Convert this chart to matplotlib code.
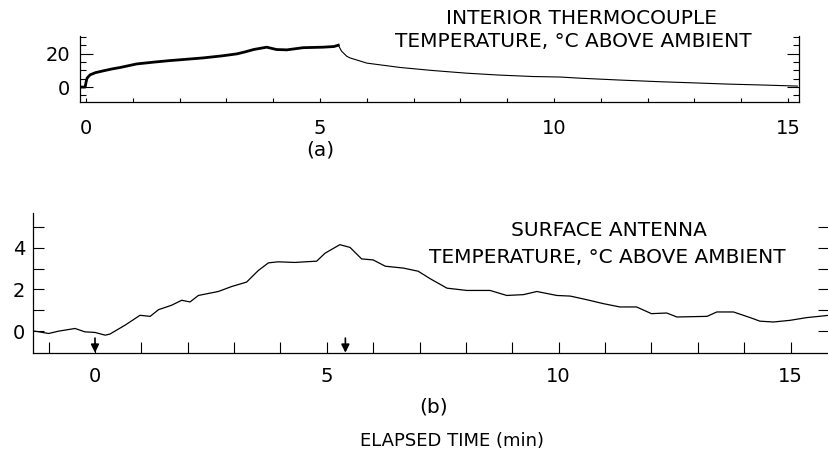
import matplotlib
matplotlib.use("Agg")
import matplotlib.pyplot as plt
from matplotlib.ticker import MultipleLocator, FixedLocator

# (a) interior thermocouple, heating phase (thick, noisy trace)
t_heat = [-0.13, -0.02, 0.0, 0.02, 0.085, 0.2, 0.37, 0.55, 0.73, 1.08, 1.45, 1.79, 2.15, 2.5,
          2.9, 3.22, 3.4, 3.58, 3.86, 4.07, 4.29, 4.64, 5.07, 5.3, 5.39]
v_heat = [0.0, 0.0, 3.0, 5.3, 7.3, 8.6, 9.7, 10.8, 11.7, 13.8, 14.9, 15.8, 16.6, 17.4,
          18.6, 19.8, 21.0, 22.4, 23.8, 22.4, 22.2, 23.5, 23.8, 24.2, 25.0]
# (a) cooling phase (thin trace)
t_cool = [5.39, 5.46, 5.57, 5.64, 6.0, 6.71, 7.4, 8.13, 8.8, 9.55, 10.13, 10.56, 11.4,
          12.26, 13.0, 13.7, 14.5, 15.2]
v_cool = [25.0, 21.4, 18.4, 17.4, 14.3, 11.7, 9.9, 8.3, 7.2, 6.3, 6.0, 5.3, 4.2,
          3.2, 2.5, 1.8, 1.2, 0.6]

# (b) surface antenna
t_surf = [-1.33, -1.29, -1.0, -0.79, -0.43, -0.22, 0.0, 0.22, 0.32, 0.65, 0.97, 1.19, 1.37,
          1.65, 1.87, 2.05, 2.23, 2.66, 2.95, 3.27, 3.52, 3.74, 3.95, 4.31, 4.53, 4.78,
          4.96, 5.28, 5.5, 5.75, 6.0, 6.26, 6.65, 6.97, 7.23, 7.59, 8.02, 8.52, 8.88,
          9.24, 9.53, 9.96, 10.25, 10.6, 10.96, 11.32, 11.68, 12.0, 12.33, 12.55, 13.2,
          13.41, 13.77, 14.13, 14.34, 14.63, 14.99, 15.35, 15.83]
v_surf = [0.0, 0.0, -0.11, 0.0, 0.13, -0.03, -0.06, -0.19, -0.14, 0.29, 0.76, 0.71, 1.03,
          1.24, 1.48, 1.40, 1.71, 1.90, 2.14, 2.35, 2.90, 3.27, 3.32, 3.29, 3.32, 3.35,
          3.73, 4.14, 4.01, 3.46, 3.41, 3.11, 3.02, 2.87, 2.51, 2.06, 1.95, 1.95, 1.71,
          1.75, 1.90, 1.71, 1.68, 1.51, 1.32, 1.16, 1.16, 0.84, 0.87, 0.68, 0.71,
          0.92, 0.92, 0.65, 0.48, 0.44, 0.52, 0.65, 0.76]
arrow_times = [0.0, 5.4]

plt.rcParams['font.family'] = ['DejaVu Sans']

fig = plt.figure(figsize=(8.29, 4.55), dpi=100)

# ---- panel (a)
ax1 = fig.add_axes([0.0965, 0.7758, 0.8673, 0.1452])
ax1.plot(t_heat, v_heat, color="k", lw=2.0)
ax1.plot(t_cool, v_cool, color="k", lw=0.8)
ax1.set_xlim(-0.13, 15.235)
ax1.set_ylim(-8.9, 30.5)
ax1.spines['top'].set_visible(False)
for s in ax1.spines.values():
    s.set_linewidth(0.9)
ax1.set_xticks([0, 5, 10, 15])
ax1.xaxis.set_minor_locator(MultipleLocator(1))
ax1.set_yticks([0, 20])
ax1.yaxis.set_minor_locator(FixedLocator([-5, 5, 10, 15, 25, 30]))
ax1.tick_params(axis='x', which='both', direction='in', length=3, width=0.8,
                labelsize=14, pad=12)
ax1.tick_params(axis='y', which='major', direction='in', length=9, width=0.8,
                labelsize=14, pad=7, right=True)
ax1.tick_params(axis='y', which='minor', direction='in', length=4, width=0.8, right=True)

fig.text(0.702, 0.960, "INTERIOR THERMOCOUPLE", ha='center', va='center', fontsize=14.5)
fig.text(0.692, 0.908, "TEMPERATURE, °C ABOVE AMBIENT", ha='center', va='center',
         fontsize=14.5)
fig.text(0.386, 0.670, "(a)", ha='center', va='center', fontsize=14.5)

# ---- panel (b)
ax2 = fig.add_axes([0.0402, 0.2248, 0.9598, 0.3077])
ax2.plot(t_surf, v_surf, color="k", lw=0.9)
ax2.set_xlim(-1.33, 15.83)
ax2.set_ylim(-1.03, 5.67)
ax2.spines['top'].set_visible(False)
for s in ax2.spines.values():
    s.set_linewidth(0.9)
ax2.set_xticks([0, 5, 10, 15])
ax2.xaxis.set_minor_locator(MultipleLocator(1))
ax2.set_yticks([0, 2, 4])
ax2.yaxis.set_minor_locator(FixedLocator([1, 3, 5]))
ax2.tick_params(axis='x', which='both', direction='in', length=8, width=0.8,
                labelsize=14, pad=10)
ax2.tick_params(axis='y', which='both', direction='in', length=8, width=0.8,
                labelsize=14, pad=6, right=True)

# pfeile bei start und ende der heizung
for ta in arrow_times:
    ax2.annotate("", xy=(ta, -1.03), xytext=(ta, -0.33),
                 arrowprops=dict(arrowstyle="-|>", color="k", lw=1.2,
                                 mutation_scale=12, shrinkA=0, shrinkB=0))

fig.text(0.735, 0.4945, "SURFACE ANTENNA", ha='center', va='center', fontsize=14.5)
fig.text(0.732, 0.435, "TEMPERATURE, °C ABOVE AMBIENT", ha='center', va='center',
         fontsize=14.5)
fig.text(0.5235, 0.105, "(b)", ha='center', va='center', fontsize=14.5)
fig.text(0.545, 0.031, "ELAPSED TIME (min)", ha='center', va='center', fontsize=13)

fig.savefig("out.png", dpi=100)
